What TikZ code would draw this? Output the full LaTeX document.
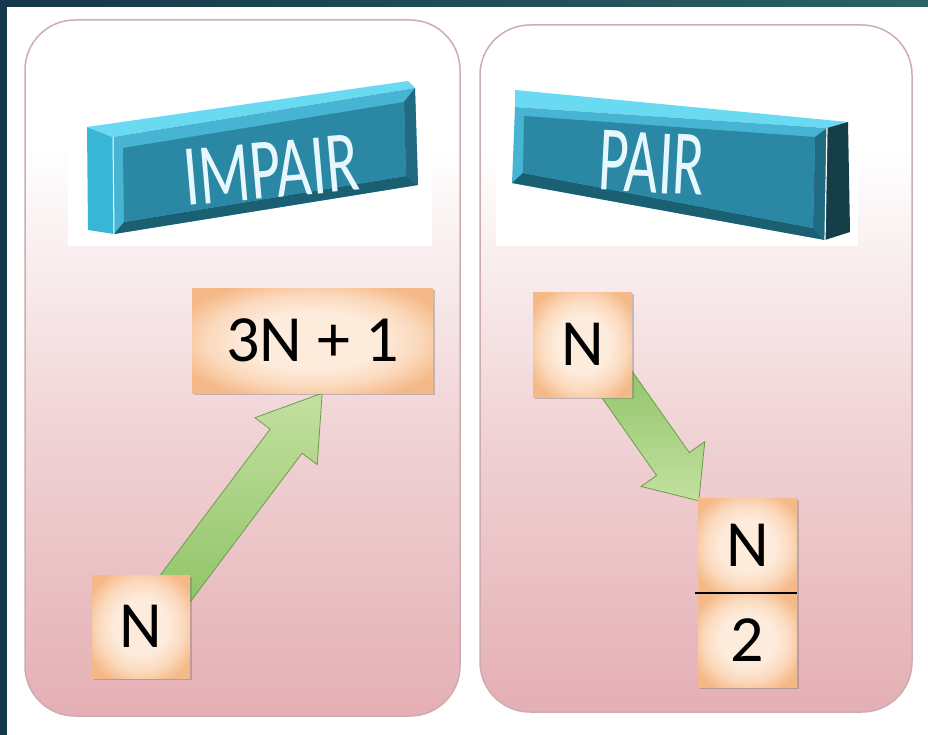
\documentclass[tikz,border=0pt]{standalone}
\usepackage{fontspec}
\setmainfont{Carlito}
\usepackage{graphicx}
\usetikzlibrary{calc,shadows}

\definecolor{frameA}{HTML}{143849}
\definecolor{frameB}{HTML}{2B6264}
\definecolor{panelEdge}{HTML}{CDADB0}
\definecolor{pinkBot}{HTML}{E4AFB4}
\definecolor{pinkMid}{HTML}{F0D2D4}
\definecolor{peachIn}{HTML}{FDEBDB}
\definecolor{peachMid}{HTML}{FBD9BC}
\definecolor{peachOut}{HTML}{F5B988}
\definecolor{greenL}{HTML}{C3E0A0}
\definecolor{greenD}{HTML}{8FC367}
\definecolor{greenE}{HTML}{6E9C4C}
\definecolor{cyTop}{HTML}{6AD9F2}
\definecolor{cySide}{HTML}{38B6D6}
\definecolor{cyBevel}{HTML}{46B4D2}
\definecolor{cyFace}{HTML}{2A88A4}
\definecolor{cyDark}{HTML}{1B5F73}
\definecolor{cyRight}{HTML}{163E49}

\pgfdeclareverticalshading{panelshade}{100bp}{color(0bp)=(pinkBot); color(25bp)=(pinkBot); color(45bp)=(pinkMid); color(66bp)=(white); color(100bp)=(white)}
\pgfdeclareradialshading{peachshade}{\pgfpoint{0bp}{0bp}}{color(0bp)=(peachIn); color(14bp)=(peachIn); color(22bp)=(peachMid); color(30bp)=(peachOut); color(50bp)=(peachOut)}

\pgfdeclarelayer{back}
\pgfdeclarelayer{mid}
\pgfsetlayers{back,mid,main}

\newcommand\blockarrow[6]{%
  \path ($(#3)!#6!(#2)$) coordinate (ah);
  \shade[#1] ($(#2)!#4!90:(#3)$) -- ($(ah)!#4!-90:(#2)$) -- ($(ah)!#5!-90:(#2)$)
    -- (#3) -- ($(ah)!#5!90:(#2)$) -- ($(ah)!#4!90:(#2)$) -- ($(#2)!#4!-90:(#3)$) -- cycle;}

\tikzset{
  numbox/.style={shading=peachshade,
    inner sep=0pt, font=\fontsize{66}{70}\selectfont, text=black,
    drop shadow={shadow xshift=1.5pt, shadow yshift=-1.5pt, opacity=0.35, fill=black!60}},
  btntext/.style={text=white!90!cyan, inner sep=0pt},
  panel/.style={shading=panelshade, draw=panelEdge, line width=1.5pt, rounded corners=50pt},
  greenarrow/.style={draw=greenE, line width=0.8pt},
}

\begin{document}
\begin{tikzpicture}[x=1pt,y=-1pt]
\useasboundingbox (0,0) rectangle (928,735);
\begin{pgfonlayer}{back}
% frame
\shade[left color=frameA, right color=frameB] (0,0) rectangle (928,735);
\fill[white] (7,7) rectangle (928,735);

% panels
\shade[panel] (25,20) rectangle (460,716);
\shade[panel] (480,25) rectangle (912,712);
\fill[white] (68,72) rectangle (432,246);
\fill[white] (496,74) rectangle (858,246);

% IMPAIR button
\fill[cySide] (87,127) -- (113,137) -- (114,234) -- (88,230) -- cycle;
\fill[cyTop] (87,127) -- (408,81) -- (415,88) -- (113,137) -- cycle;
\fill[cyBevel] (113,137) -- (415,88) -- (418,185) -- (114,234) -- cycle;
\fill[cyDark] (114,234) -- (418,185) -- (406,176) -- (124,222) -- cycle;
\fill[cyDark!70!cyFace] (415,88) -- (418,185) -- (406,176) -- (404,102) -- cycle;
\fill[cyFace] (123,148) -- (404,102) -- (406,176) -- (124,222) -- cycle;
\draw[white, line width=1pt] (113,137) -- (114,234);

% PAIR button
\fill[cyTop] (515,90) -- (848,122) -- (827,128) -- (515,107) -- cycle;
\fill[cyRight] (827,128) -- (848,122) -- (850,232) -- (825,240) -- cycle;
\fill[cyBevel] (515,107) -- (827,128) -- (825,240) -- (512,183) -- cycle;
\fill[cyDark] (512,183) -- (825,240) -- (813,228) -- (523,173) -- cycle;
\fill[cyDark!70!cyFace] (827,128) -- (825,240) -- (813,228) -- (815,137) -- cycle;
\fill[cyFace] (524,116) -- (815,137) -- (813,228) -- (523,173) -- cycle;
\draw[white, line width=1.2pt] (827,128) -- (825,240);
\end{pgfonlayer}

\node[btntext, rotate=5] (timpair) at (271,170) {\fontsize{60}{60}\selectfont\scalebox{1}[1.45]{IMPAIR}};
\node[btntext, rotate=-3] (tpair) at (652,163) {\fontsize{58}{58}\selectfont\scalebox{1}[1.6]{PAIR}};

% boxes
\node[numbox, minimum width=241pt, minimum height=105pt] (b31) at (312.5,340.5) {3N + 1};
\node[numbox, minimum width=98pt, minimum height=103pt] (n1) at (141,626.5) {N};
\node[numbox, minimum width=99pt, minimum height=105pt] (n3) at (582.5,344.5) {N};
\node[numbox, minimum width=99pt, minimum height=95pt] (h1) at (747.5,545.5) {N};
\node[numbox, minimum width=99pt, minimum height=94pt] (h2) at (747.5,640) {2};
\draw[line width=2.5pt] ($(h1.south west)+(-3,0)$) -- (h1.south east);

% arrows
\coordinate (sA) at ($(n1.center)!0.55!(n1.north east)$);
\coordinate (eA) at ($(b31.south west)!0.54!(b31.south east)$);
\coordinate (sB) at ($(n3.center)!0.5!(n3.south east)$);
\coordinate (eB) at ($(h1.north west)+(1,3)$);
\begin{pgfonlayer}{mid}
\blockarrow{greenarrow, top color=greenL, bottom color=greenD}{sA}{eA}{20pt}{39pt}{60pt}
\blockarrow{greenarrow, top color=greenD, bottom color=greenL}{sB}{eB}{20pt}{39pt}{45pt}
\end{pgfonlayer}
\end{tikzpicture}
\end{document}
